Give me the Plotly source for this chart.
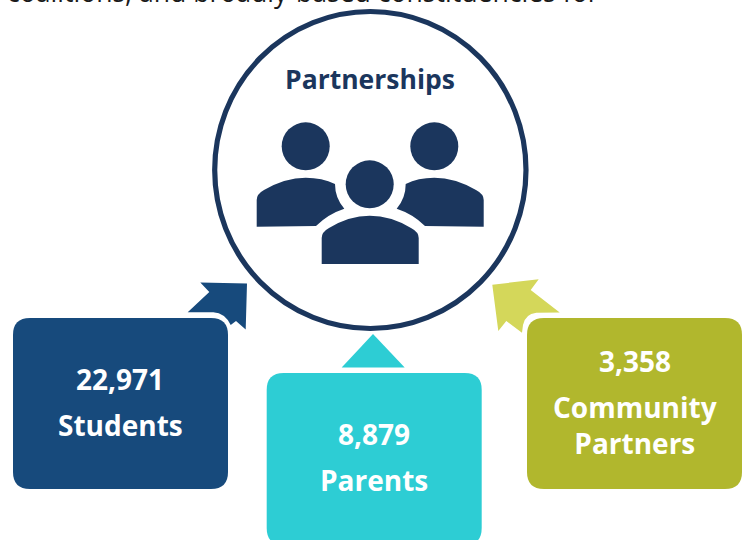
import plotly.graph_objects as go

# --- content ---
header_text = "coalitions, and broadly-based constituencies for"
title_text = "Partnerships"
values = ["22,971", "8,879", "3,358"]
groups = ["Students", "Parents", "Community<br>Partners"]

NAVY = "#1B365D"
BOX_COLORS = ["#174A7C", "#2DCDD4", "#B1B72D"]
ARROW_COLORS = ["#174A7C", "#2DCDD4", "#D4D75A"]
FONT = "Open Sans"

# box x0, y0, x1, y1 in page pixels
boxes = [(13, 318, 228, 489), (266.7, 373, 481.7, 545), (527, 318, 742, 489)]
R = 17

arrows = [
    "M247,283.5 L200.3,282.5 L209.3,292 L187.7,312.3 L213.3,312.3 "
    "Q225,313 230.7,325 L236,321 L245.7,329.5 Z",
    "M373,334 L341.7,367.5 L404.7,367.5 Z",
    "M492.3,284.7 L538.7,279.3 L530.7,290 L559.7,312.5 L536.3,312.7 "
    "Q525,314 523,325 L522,332.7 L506.3,321 L498.3,331 Z",
]

bodies = [
    "M256.7,226.7 L256.7,200 Q256.7,194 264,190 Q285,177.7 305.7,177.7 "
    "Q322,177.7 335,184 Q335,198 344.3,208.7 Q328,214 316,226 Z",
    "M483.7,226.7 L483.7,200 Q483.7,194 476,190 Q455,177.7 434.3,177.7 "
    "Q418,177.7 405.7,184 Q405.7,198 396.7,208.7 Q413,214 425,226 Z",
    "M321.7,264 L321.7,238 Q321.7,232 329,228 Q349,215.7 369.7,215.7 "
    "Q391,215.7 411,228 Q418.7,232 418.7,238 L418.7,264 Z",
]
heads = [(305.7, 146.3), (434.3, 146.3), (369.7, 184.3)]
HEAD_R = 24


def rounded(x0, y0, x1, y1, r):
    return (
        f"M{x0+r},{y0} L{x1-r},{y0} Q{x1},{y0} {x1},{y0+r} L{x1},{y1-r} "
        f"Q{x1},{y1} {x1-r},{y1} L{x0+r},{y1} Q{x0},{y1} {x0},{y1-r} "
        f"L{x0},{y0+r} Q{x0},{y0} {x0+r},{y0} Z"
    )


shapes = []
for path, col in zip(arrows, ARROW_COLORS):
    shapes.append(dict(type="path", path=path, fillcolor=col, line_width=0, layer="below"))
shapes.append(dict(type="circle", x0=214.7, y0=11.5, x1=526, y1=328.5,
                   fillcolor="rgba(255,255,255,0)", line=dict(color=NAVY, width=5.2), layer="below"))
for b, col in zip(boxes, BOX_COLORS):
    shapes.append(dict(type="path", path=rounded(*b, R), fillcolor=col, line_width=0, layer="below"))
for p in bodies:
    shapes.append(dict(type="path", path=p, fillcolor=NAVY, line_width=0, layer="below"))
for cx, cy in heads:
    shapes.append(dict(type="circle", x0=cx-HEAD_R, y0=cy-HEAD_R, x1=cx+HEAD_R, y1=cy+HEAD_R,
                       fillcolor=NAVY, line_width=0, layer="below"))


def label(x, y, text, size, color="white", bold=True, xanchor="center", yshift=0):
    return dict(x=x, y=y, text=f"<b>{text}</b>" if bold else text, showarrow=False,
                xanchor=xanchor, yanchor="middle", align="center", yshift=yshift,
                font=dict(family=FONT, size=size, color=color))


annotations = [
    label(370, 78.5, title_text, 26.5, NAVY),
    label(5, 0, header_text, 26.6, "#1a1a1a", bold=False, xanchor="left", yshift=8),
    label(120, 379, values[0], 28),
    label(120, 425, groups[0], 28),
    label(374, 434, values[1], 28),
    label(374, 480, groups[1], 28),
    label(634.5, 361, values[2], 28),
    label(634.5, 425, groups[2], 28),
]

fig = go.Figure()
fig.update_layout(
    width=746, height=540,
    margin=dict(l=0, r=0, t=0, b=0),
    paper_bgcolor="white", plot_bgcolor="white",
    xaxis=dict(range=[0, 746], visible=False, fixedrange=True),
    yaxis=dict(range=[540, 0], visible=False, fixedrange=True),
    shapes=shapes, annotations=annotations, showlegend=False,
)
fig.write_html("out.html", config=dict(displayModeBar=False),
               post_script="document.body.style.margin='0';document.body.style.overflow='hidden';")
